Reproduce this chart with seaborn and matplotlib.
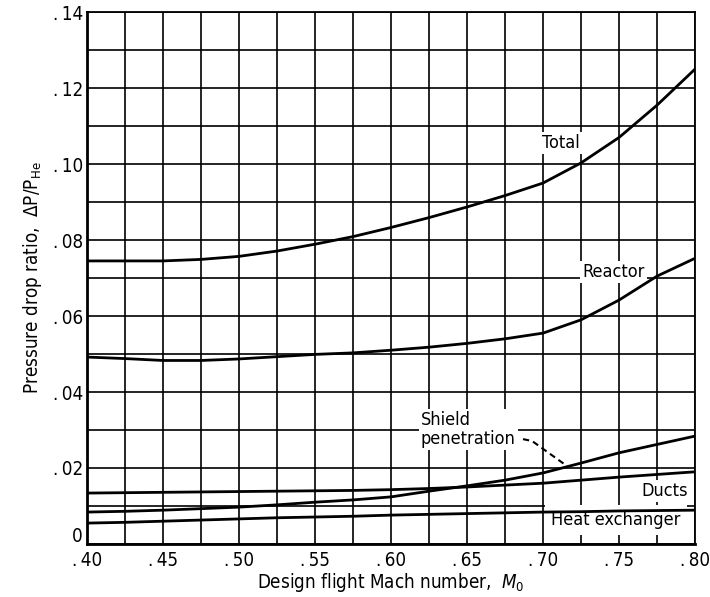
import numpy as np
import pandas as pd
import seaborn as sns
import matplotlib.pyplot as plt
import matplotlib.transforms as mtransforms
from matplotlib.ticker import MultipleLocator, FixedLocator, FuncFormatter

# Design flight Mach number
mach = [0.40, 0.425, 0.45, 0.475, 0.50, 0.525, 0.55, 0.575, 0.60,
        0.625, 0.65, 0.675, 0.70, 0.725, 0.75, 0.775, 0.80]

# Pressure drop ratio components
total = [0.0745, 0.0745, 0.0745, 0.0749, 0.0757, 0.0771, 0.0789, 0.0809, 0.0833,
         0.0859, 0.0887, 0.0917, 0.0950, 0.1003, 0.1070, 0.1155, 0.1250]
reactor = [0.0492, 0.0488, 0.0483, 0.0483, 0.0487, 0.0493, 0.0499, 0.0503, 0.0510,
           0.0518, 0.0528, 0.0540, 0.0555, 0.0590, 0.0642, 0.0705, 0.0752]
shield = [0.0084, 0.0086, 0.0089, 0.0093, 0.0097, 0.0103, 0.0110, 0.0116, 0.0124,
          0.0139, 0.0153, 0.0168, 0.0187, 0.0213, 0.0240, 0.0262, 0.0284]
ducts = [0.0134, 0.0135, 0.0136, 0.0137, 0.0138, 0.0139, 0.0140, 0.0141, 0.0143,
         0.0146, 0.0150, 0.0155, 0.0160, 0.0168, 0.0176, 0.0183, 0.0190]
heat_exchanger = [0.0055, 0.0057, 0.0060, 0.0063, 0.0066, 0.0069, 0.0071, 0.0073, 0.0076,
                  0.0078, 0.0080, 0.0082, 0.0084, 0.0085, 0.0087, 0.0088, 0.0089]

x_ticks = [0.40, 0.45, 0.50, 0.55, 0.60, 0.65, 0.70, 0.75, 0.80]
y_ticks = [0.0, 0.02, 0.04, 0.06, 0.08, 0.10, 0.12, 0.14]

series = {"Total": total, "Reactor": reactor, "Shield penetration": shield,
          "Ducts": ducts, "Heat exchanger": heat_exchanger}
df = pd.concat([pd.DataFrame({"mach": mach, "ratio": v, "component": k})
                for k, v in series.items()], ignore_index=True)

sns.set_style("white")
plt.rcParams["font.family"] = ["DejaVu Sans"]
plt.rcParams["font.stretch"] = "condensed"
plt.rcParams["mathtext.fontset"] = "dejavusans"
plt.rcParams["axes.labelcolor"] = "black"
plt.rcParams["text.color"] = "black"

fig = plt.figure(figsize=(7.1, 5.97), dpi=100)
ax = fig.add_axes([0.1225, 0.0888, 0.8565, 0.891])

sns.lineplot(data=df, x="mach", y="ratio", units="component", estimator=None,
             color="black", linewidth=2.0, ax=ax, zorder=4)

ax.set_xlim(0.40, 0.80)
ax.set_ylim(0.0, 0.14)

# Grid: every 0.025 in Mach, every 0.01 in pressure ratio
ax.xaxis.set_minor_locator(MultipleLocator(0.025))
ax.yaxis.set_minor_locator(MultipleLocator(0.01))
ax.xaxis.set_major_locator(FixedLocator(x_ticks))
ax.yaxis.set_major_locator(FixedLocator(y_ticks))
ax.grid(which="both", color="black", linewidth=1.2, zorder=1)
ax.set_axisbelow(True)


def frac_fmt(v, pos):
    if abs(v) < 1e-9:
        return "0"
    return ".\u2009" + f"{v:.2f}"[2:]


ax.xaxis.set_major_formatter(FuncFormatter(frac_fmt))
ax.yaxis.set_major_formatter(FuncFormatter(frac_fmt))
ax.tick_params(which="both", length=0, labelsize=13.5, colors="black")
ax.tick_params(axis="x", pad=5)
ax.tick_params(axis="y", pad=3)

# Lift the zero label clear of the first Mach label
fig.canvas.draw()
zero_label = ax.yaxis.get_major_ticks()[0].label1
zero_label.set_transform(zero_label.get_transform() +
                         mtransforms.ScaledTranslation(0, 7 / 72, fig.dpi_scale_trans))

for s in ax.spines.values():
    s.set_visible(True)
    s.set_color("black")
    s.set_linewidth(1.3)
ax.spines["left"].set_linewidth(2.0)
ax.spines["bottom"].set_linewidth(2.0)

ax.set_xlabel(r"Design flight Mach number,  $M_0$", fontsize=13.5, labelpad=1,
              color="black")
ax.set_ylabel(r"Pressure drop ratio,  $\mathregular{\Delta P/P_{He}}$",
              fontsize=13.5, labelpad=6, color="black")

box = dict(facecolor="white", edgecolor="none", pad=1.5)
txt = dict(fontsize=13, color="black", zorder=3)
ax.text(0.712, 0.1055, "Total", ha="center", va="center", bbox=box, **txt)
ax.text(0.7465, 0.0716, "Reactor", ha="center", va="center", bbox=box, **txt)
ax.text(0.6197, 0.0302, "Shield\npenetration", ha="left", va="center",
        linespacing=1.05, bbox=box, **txt)
ax.text(0.7954, 0.0139, "Ducts", ha="right", va="center", bbox=box, **txt)
ax.text(0.7905, 0.0063, "Heat exchanger", ha="right", va="center",
        bbox=dict(facecolor="white", edgecolor="none", pad=4.5), **txt)

# Dashed leader from the shield label to its curve
ax.plot([0.6868, 0.6928, 0.7158], [0.0276, 0.0271, 0.0205],
        color="black", linewidth=1.5, linestyle=(0, (3, 2)), zorder=4)

fig.savefig("out.png", dpi=100)
